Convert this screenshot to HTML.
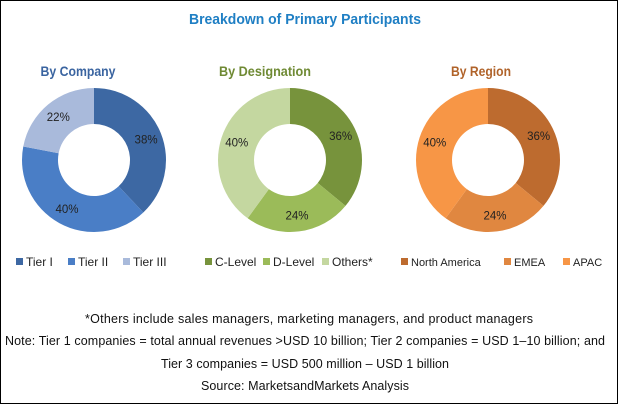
<!DOCTYPE html>
<html><head><meta charset="utf-8"><style>
html,body{margin:0;padding:0;background:#fff}
svg{display:block;font-family:"Liberation Sans",sans-serif}
</style></head><body>
<svg id="chart" width="618" height="404" viewBox="0 0 618 404">
<rect x="0.5" y="0.5" width="617" height="403" fill="#fff" stroke="#000"/>
<text x="305" y="24" text-anchor="middle" font-size="15" font-weight="bold" fill="#1f7fc4" textLength="232" lengthAdjust="spacingAndGlyphs">Breakdown of Primary Participants</text>
<g id="donuts"></g>
<text x="309" y="323" text-anchor="middle" font-size="12.5" fill="#111" textLength="448">*Others include sales managers, marketing managers, and product managers</text>
<text x="305" y="345" text-anchor="middle" font-size="12.5" fill="#111" textLength="600">Note: Tier 1 companies = total annual revenues &gt;USD 10 billion; Tier 2 companies = USD 1–10 billion; and</text>
<text x="305" y="368" text-anchor="middle" font-size="12.5" fill="#111" textLength="288">Tier 3 companies = USD 500 million – USD 1 billion</text>
<text x="305" y="390" text-anchor="middle" font-size="12.5" fill="#111" textLength="208">Source: MarketsandMarkets Analysis</text>
</svg>
<script>
const companyLabels=["Tier I","Tier II","Tier III"];
const companyValues=[38,40,22];
const designationLabels=["C-Level","D-Level","Others*"];
const designationValues=[36,24,40];
const regionLabels=["North America","EMEA","APAC"];
const regionValues=[36,24,40];

const NS="http://www.w3.org/2000/svg";
const root=document.getElementById('donuts');
function mk(tag,attrs,parent){const e=document.createElementNS(NS,tag);for(const k in attrs)e.setAttribute(k,attrs[k]);parent.appendChild(e);return e;}
const charts=[
 {key:'company',title:'By Company',titleColor:'#3a64a0',tx:78,tw:75,cx:94,labels:companyLabels,values:companyValues,colors:['#3d68a3','#4a7ec6','#a9badb'],legendX:[16,68,123],fs:12},
 {key:'designation',title:'By Designation',titleColor:'#6f8a34',tx:265,tw:92,cx:290,labels:designationLabels,values:designationValues,colors:['#77933c','#9bbb59','#c4d7a0'],legendX:[205,263,322],fs:12},
 {key:'region',title:'By Region',titleColor:'#b0632a',tx:481,tw:60,cx:488,labels:regionLabels,values:regionValues,colors:['#bd6b2f','#e08740','#f79646'],legendX:[401,504,563],fs:11}
];
const cy=160,R=72,r=36;
charts.forEach(c=>{
  const g=mk('g',{},root);
  
  
  const t=mk('text',{x:c.tx,y:76,'text-anchor':'middle','font-size':14,'font-weight':'bold',fill:c.titleColor,textLength:c.tw,lengthAdjust:'spacingAndGlyphs'},g);
  t.textContent=c.title;
  
  
  const total=c.values.reduce((a,b)=>a+b,0);
  let a0=-Math.PI/2;
  c.values.forEach((v,i)=>{
    const a1=a0+v/total*2*Math.PI;
    const large=(a1-a0)>Math.PI?1:0;
    const p=(ang,rad)=>[c.cx+rad*Math.cos(ang),cy+rad*Math.sin(ang)];
    const [x0,y0]=p(a0,R),[x1,y1]=p(a1,R),[x2,y2]=p(a1,r),[x3,y3]=p(a0,r);
    const path=mk('path',{d:`M${x0},${y0}A${R},${R} 0 ${large} 1 ${x1},${y1}L${x2},${y2}A${r},${r} 0 ${large} 0 ${x3},${y3}Z`,fill:c.colors[i]},g);
    
    
    const am=(a0+a1)/2,[lx,ly]=p(am,56);
    const lb=mk('text',{x:lx,y:ly+4,'text-anchor':'middle','font-size':11.5,fill:'#222'},g);
    lb.textContent=v+'%';
    
    
    const lg=mk('g',{},g);
    
    
    mk('rect',{x:c.legendX[i],y:258,width:7,height:7,fill:c.colors[i]},lg);
    const lt=mk('text',{x:c.legendX[i]+10,y:266,'font-size':c.fs,fill:'#222'},lg);
    lt.textContent=c.labels[i];
    a0=a1;
  });
});
</script>
</body></html>
